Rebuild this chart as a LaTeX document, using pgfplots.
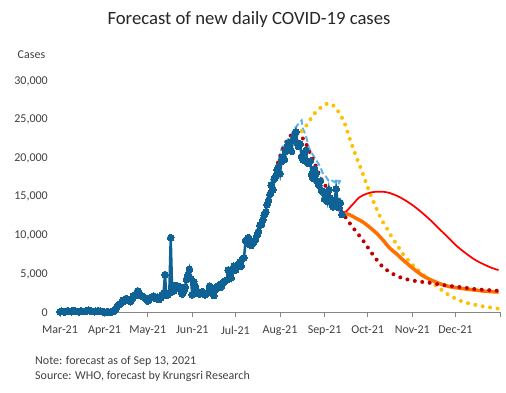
\documentclass[border=0pt]{standalone}
\usepackage{pgfplots}
\pgfplotsset{compat=1.18}
\usepackage{pgfplotstable}
\usepackage{fontspec}
\setmainfont{Carlito}
\definecolor{cblue}{RGB}{14,98,150}
\definecolor{clight}{RGB}{91,180,240}
\definecolor{cdred}{RGB}{192,0,0}
\definecolor{cyel}{RGB}{255,192,0}
\definecolor{cred}{RGB}{255,0,0}
\definecolor{corg}{RGB}{255,112,0}
\definecolor{ctxt}{RGB}{64,64,64}
\definecolor{caxis}{RGB}{134,134,134}

\pgfplotstableread{
d v
0 100
1 150
2 120
3 90
4 110
5 200
6 180
7 130
8 100
9 250
10 220
11 150
12 120
13 100
14 180
15 160
16 140
17 120
18 150
19 250
20 300
21 200
22 150
23 120
24 100
25 150
26 180
27 200
28 150
29 120
30 100
31 50
32 30
33 20
34 40
35 80
36 60
37 120
38 300
39 500
40 900
41 1000
42 1100
43 1400
44 1600
45 1500
46 1800
47 1600
48 1500
49 1400
50 1700
51 2100
52 2300
53 2200
54 2800
55 2600
56 2200
57 2100
58 2000
59 1900
60 1800
61 1500
62 1700
63 1900
64 2000
65 2100
66 1900
67 1800
68 2000
69 1700
70 1900
71 2300
72 2500
73 4900
74 2200
75 2300
76 2500
77 9700
78 2700
79 2800
80 3500
81 3200
82 3400
83 3300
84 2900
85 2400
86 2800
87 3300
88 4300
89 4900
90 5600
91 4400
92 2300
93 4000
94 3400
95 2600
96 2700
97 2400
98 2600
99 2700
100 2400
101 2300
102 2500
103 2600
104 3400
105 3200
106 2600
107 2200
108 3000
109 3300
110 3400
111 3600
112 3300
113 3800
114 4000
115 4100
116 4200
117 5500
118 5200
119 4500
120 5400
121 6000
122 5500
123 6100
124 6200
125 6500
126 6000
127 7000
128 7100
129 9300
130 9400
131 9700
132 8800
133 8700
134 9000
135 9200
136 9500
137 10000
138 10500
139 11300
140 11400
141 12000
142 12600
143 13000
144 14000
145 14500
146 15300
147 16500
148 15900
149 17300
150 17700
151 18500
152 18900
153 18000
154 19600
155 20200
156 19800
157 20900
158 21400
159 22000
160 21000
161 20900
162 22300
163 22800
164 23400
165 22000
166 21500
167 21800
168 20200
169 19800
170 20700
171 21000
172 19500
173 19300
174 19600
175 17900
176 17400
177 18600
178 18000
179 17000
180 16500
181 17000
182 15800
183 15600
184 14700
185 15200
186 14400
187 15900
188 14800
189 14200
190 13700
191 14600
192 16000
193 14400
194 13600
195 14200
196 12700
}\actual

\pgfplotstableread{
d v
152 19800
154 21200
156 22000
158 22300
160 22700
162 23500
164 24000
166 24500
168 24900
169 23800
171 22900
173 21400
175 20700
177 20100
179 19500
181 18900
183 17900
185 17600
187 17000
189 17100
191 16900
193 17300
194 16800
196 17400
}\upper

\pgfplotstableread{
d v
135 9200
138 10600
141 12100
144 14300
147 16500
150 18500
153 20200
156 21600
159 22600
162 23150
165 23200
168 22800
171 21900
174 20600
177 19400
180 18000
183 16900
186 16000
189 14900
192 14000
195 13300
198 12500
201 11700
205 10700
208 10000
212 9000
216 7900
220 6900
224 6000
228 5400
232 4950
236 4600
240 4350
245 4150
250 4000
257 3850
265 3600
273 3400
282 3200
290 3000
298 2900
305 2800
}\fitdots

\pgfplotstableread{
d v
168 23500
172 24400
175 25300
178 26000
183 26800
187 27100
191 26700
195 25600
198 24500
201 22800
204 21200
207 19700
210 18300
213 16700
217 14800
221 13100
224 11900
228 10700
231 9700
235 8600
238 7700
243 6600
249 5500
255 4500
262 3400
271 2200
281 1350
294 800
305 500
}\yellowdots

\pgfplotstableread{
d v
196 12900
199 13100
202 13700
205 14300
208 14900
212 15300
216 15550
220 15650
224 15650
228 15550
234 15150
240 14550
246 13800
252 12900
258 11900
264 10800
270 9700
276 8600
282 7700
288 6900
294 6300
300 5800
305 5500
}\redline

\pgfplotstableread{
d v
196 12900
201 12700
205 12300
210 11800
215 11100
220 10300
225 9300
229 8400
234 7600
238 6900
243 6100
248 5350
252 4800
257 4300
262 3900
266 3600
271 3350
276 3200
282 3050
289 2900
296 2750
305 2650
}\orangeline

\begin{document}
\begin{tikzpicture}
\useasboundingbox (0,0) rectangle (506bp,393bp);
\node[font=\fontsize{18.7bp}{22bp}\selectfont, text=black!85, inner sep=0pt] at (249bp,373bp) {Forecast of new daily COVID-19 cases};
\node[font=\fontsize{12bp}{14bp}\selectfont, text=ctxt, inner sep=0pt] at (31.5bp,338bp) {Cases};
\node[anchor=west, inner sep=0pt, font=\fontsize{12bp}{14bp}\selectfont, text=ctxt] at (35bp,32bp) {Note: forecast as of Sep 13, 2021};
\node[anchor=west, inner sep=0pt, font=\fontsize{12bp}{14bp}\selectfont, text=ctxt] at (35bp,17bp) {Source: WHO, forecast by Krungsri Research};
\begin{axis}[
  at={(60bp,80.5bp)}, anchor=south west,
  scale only axis, width=440bp, height=231.5bp,
  xmin=0, xmax=306, ymin=0, ymax=30000,
  clip=false,
  axis x line*=bottom, axis y line*=left,
  y axis line style={draw=none},
  x axis line style={caxis, line width=1bp, -},
  xtick={0,31,61,92,122,153,184,214,245,275,306},
  xticklabels={Mar-21,Apr-21,May-21,Jun-21,Jul-21,Aug-21,Sep-21,Oct-21,Nov-21,Dec-21,{}},
  xtick style={caxis, line width=1bp},
  tick align=outside, major tick length=4.5bp,
  ytick={0,5000,10000,15000,20000,25000,30000},
  ytick style={draw=none},
  scaled y ticks=false,
  /pgf/number format/1000 sep={,},
  /pgf/number format/assume math mode=true,
  tick label style={font=\fontsize{12bp}{14bp}\selectfont, text=ctxt, inner sep=0pt},
  yticklabel style={xshift=-7.5bp},
  xticklabel style={yshift=-8.5bp},
]
\addplot[clight, line width=2bp, dash pattern=on 6bp off 3bp] table[x=d, y=v] {\upper};
\addplot[cblue, line width=2.5bp, mark=*, mark size=3.4bp, mark options={fill=cblue, draw=cblue, line width=0pt}] table[x=d, y=v] {\actual};
\addplot[cyel, line width=4bp, line cap=round, dash pattern=on 0bp off 7.5bp, smooth] table[x=d, y=v] {\yellowdots};
\addplot[cred, line width=1.75bp, smooth] table[x=d, y=v] {\redline};
\addplot[corg, line width=3.5bp, smooth] table[x=d, y=v] {\orangeline};
\addplot[cdred, line width=4bp, line cap=round, dash pattern=on 0bp off 7.5bp, smooth] table[x=d, y=v] {\fitdots};
\end{axis}
\end{tikzpicture}
\end{document}
